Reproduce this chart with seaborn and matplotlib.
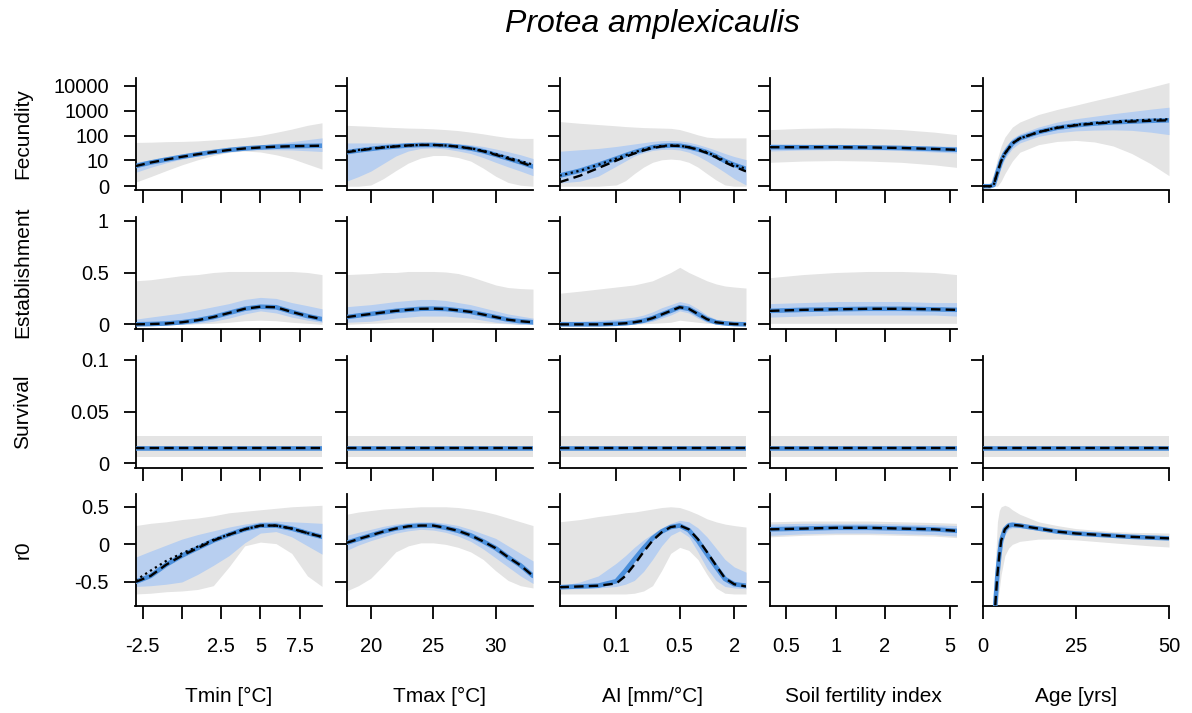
import matplotlib
matplotlib.use("Agg")
import matplotlib.pyplot as plt
import seaborn as sns
import numpy as np

sns.set_theme(style="ticks")
plt.rcParams['font.family'] = ['Liberation Sans', 'DejaVu Sans']
plt.rcParams['text.color'] = 'black'
plt.rcParams['axes.labelcolor'] = 'black'
plt.rcParams['xtick.color'] = 'black'
plt.rcParams['ytick.color'] = 'black'

# ---------------- DATA ----------------
# Fecundity values are given on the plotted axis, i.e. log10(fecundity + 1)
fec_ticks = [0, 10, 100, 1000, 10000]

# --- Fecundity ~ Tmin
fec_tmin_x = [-2.96, -2, -1, 0, 1, 2, 3, 4, 5, 6, 7, 8, 8.93]
fec_tmin_med = [0.80, 0.94, 1.06, 1.17, 1.27, 1.36, 1.44, 1.50, 1.54, 1.57, 1.59, 1.60, 1.61]
fec_tmin_bhi = [0.95, 1.05, 1.15, 1.25, 1.34, 1.42, 1.50, 1.57, 1.63, 1.70, 1.77, 1.85, 1.92]
fec_tmin_blo = [0.55, 0.75, 0.93, 1.08, 1.20, 1.30, 1.38, 1.43, 1.45, 1.45, 1.44, 1.41, 1.38]
fec_tmin_ghi = [1.74, 1.75, 1.77, 1.78, 1.80, 1.84, 1.88, 1.94, 2.02, 2.14, 2.27, 2.42, 2.52]
fec_tmin_glo = [0.16, 0.38, 0.62, 0.85, 1.05, 1.22, 1.35, 1.40, 1.36, 1.25, 1.10, 0.88, 0.68]

# --- Fecundity ~ Tmax
fec_tmax_x = [18.05, 19, 20, 21, 22, 23, 24, 25, 26, 27, 28, 29, 30, 31, 32, 33.0]
fec_tmax_med = [1.35, 1.42, 1.48, 1.54, 1.58, 1.62, 1.64, 1.64, 1.62, 1.57, 1.50, 1.39, 1.25, 1.10, 0.95, 0.78]
fec_tmax_dot = [1.38, 1.44, 1.50, 1.55, 1.59, 1.62, 1.64, 1.64, 1.62, 1.57, 1.51, 1.41, 1.28, 1.14, 1.00, 0.86]
fec_tmax_bhi = [1.72, 1.72, 1.72, 1.72, 1.72, 1.73, 1.74, 1.74, 1.72, 1.69, 1.65, 1.58, 1.48, 1.37, 1.25, 1.10]
fec_tmax_blo = [0.20, 0.38, 0.60, 0.90, 1.20, 1.40, 1.50, 1.52, 1.48, 1.40, 1.30, 1.14, 0.95, 0.77, 0.60, 0.42]
fec_tmax_ghi = [2.42, 2.40, 2.38, 2.35, 2.33, 2.31, 2.30, 2.28, 2.25, 2.21, 2.15, 2.08, 2.00, 1.93, 1.90, 1.90]
fec_tmax_glo = [0.00, 0.00, 0.05, 0.30, 0.62, 0.92, 1.12, 1.22, 1.22, 1.14, 1.00, 0.72, 0.40, 0.15, 0.04, 0.00]

# AI / x grid used by several AI panels (mm/°C)
ai_x = [0.0236, 0.0398, 0.0631, 0.1, 0.126, 0.158, 0.2, 0.251, 0.316, 0.398,
        0.501, 0.631, 0.794, 1.0, 1.26, 1.58, 2.0, 2.70]

# --- Fecundity ~ AI
fec_ai_med = [0.42, 0.62, 0.85, 1.10, 1.23, 1.35, 1.46, 1.55, 1.60, 1.62, 1.61, 1.55, 1.46, 1.35, 1.19, 1.00, 0.85, 0.69]
fec_ai_dash = [0.16, 0.42, 0.72, 1.02, 1.17, 1.30, 1.42, 1.52, 1.58, 1.61, 1.60, 1.55, 1.45, 1.32, 1.15, 0.95, 0.78, 0.59]
fec_ai_bhi = [1.39, 1.45, 1.50, 1.58, 1.63, 1.68, 1.73, 1.78, 1.81, 1.82, 1.80, 1.75, 1.66, 1.55, 1.43, 1.30, 1.18, 1.06]
fec_ai_blo = [0.13, 0.20, 0.40, 0.80, 1.00, 1.20, 1.33, 1.42, 1.46, 1.47, 1.44, 1.35, 1.20, 1.00, 0.78, 0.55, 0.30, 0.05]
fec_ai_ghi = [2.57, 2.50, 2.45, 2.40, 2.37, 2.35, 2.33, 2.32, 2.31, 2.30, 2.25, 2.15, 2.04, 1.95, 1.92, 1.92, 1.92, 1.92]
fec_ai_glo = [0, 0, 0, 0.05, 0.22, 0.50, 0.76, 0.95, 1.05, 1.08, 1.05, 0.95, 0.76, 0.50, 0.25, 0.05, 0, 0]

# --- Fecundity ~ Soil fertility
fec_soil_x = [0.397, 0.631, 1.0, 1.58, 2.51, 3.98, 5.46]
fec_soil_med = [1.55, 1.55, 1.55, 1.54, 1.52, 1.48, 1.45]
fec_soil_bhi = [1.68, 1.66, 1.65, 1.64, 1.62, 1.60, 1.58]
fec_soil_blo = [1.40, 1.44, 1.46, 1.45, 1.42, 1.36, 1.32]
fec_soil_ghi = [2.25, 2.30, 2.32, 2.30, 2.25, 2.15, 2.05]
fec_soil_glo = [0.95, 1.00, 1.02, 1.00, 0.95, 0.85, 0.75]

# --- Fecundity ~ Age
fec_age_x = [0, 2, 3, 4, 5, 6, 8, 10, 15, 20, 25, 30, 35, 40, 45, 50]
fec_age_med = [0, 0, 0.05, 0.55, 1.00, 1.30, 1.70, 1.90, 2.15, 2.32, 2.42, 2.49, 2.54, 2.57, 2.60, 2.62]
fec_age_dot = [0, 0, 0.05, 0.55, 1.00, 1.30, 1.70, 1.90, 2.15, 2.33, 2.44, 2.51, 2.57, 2.61, 2.64, 2.66]
fec_age_bhi = [0, 0.05, 0.30, 0.80, 1.25, 1.55, 1.90, 2.08, 2.35, 2.55, 2.68, 2.78, 2.88, 2.97, 3.06, 3.14]
fec_age_blo = [0, 0, 0, 0.30, 0.75, 1.10, 1.50, 1.72, 1.98, 2.12, 2.20, 2.23, 2.24, 2.22, 2.15, 2.05]
fec_age_ghi = [0, 0.10, 0.50, 1.10, 1.60, 1.95, 2.35, 2.55, 2.85, 3.05, 3.22, 3.40, 3.57, 3.75, 3.93, 4.12]
fec_age_glo = [0, 0, 0, 0, 0.20, 0.50, 1.00, 1.35, 1.65, 1.78, 1.82, 1.76, 1.60, 1.30, 0.90, 0.42]

# --- Establishment ~ Tmin
est_tmin_x = [-2.96, -2, -1, 0, 1, 2, 3, 4, 5, 6, 7, 8, 8.93]
est_tmin_med = [0.0, 0.003, 0.008, 0.02, 0.04, 0.07, 0.11, 0.15, 0.17, 0.165, 0.12, 0.08, 0.05]
est_tmin_bhi = [0.05, 0.07, 0.09, 0.11, 0.14, 0.17, 0.20, 0.24, 0.26, 0.25, 0.21, 0.18, 0.15]
est_tmin_blo = [0, 0, 0, 0, 0.01, 0.03, 0.06, 0.10, 0.13, 0.11, 0.07, 0.04, 0.02]
est_tmin_ghi = [0.42, 0.43, 0.45, 0.47, 0.48, 0.50, 0.51, 0.51, 0.51, 0.51, 0.51, 0.50, 0.48]
est_tmin_glo = [0, 0, 0, 0, 0.005, 0.01, 0.02, 0.035, 0.04, 0.035, 0.02, 0.01, 0.0]

# --- Establishment ~ Tmax
est_tmax_x = [18.05, 19, 20, 21, 22, 23, 24, 25, 26, 27, 28, 29, 30, 31, 32, 33.0]
est_tmax_med = [0.07, 0.085, 0.10, 0.115, 0.13, 0.14, 0.15, 0.152, 0.148, 0.135, 0.12, 0.095, 0.07, 0.045, 0.03, 0.02]
est_tmax_bhi = [0.17, 0.18, 0.19, 0.205, 0.22, 0.23, 0.24, 0.24, 0.23, 0.21, 0.19, 0.16, 0.13, 0.10, 0.08, 0.06]
est_tmax_blo = [0.02, 0.025, 0.03, 0.045, 0.06, 0.07, 0.08, 0.08, 0.08, 0.07, 0.06, 0.04, 0.02, 0.01, 0.0, 0.0]
est_tmax_ghi = [0.48, 0.485, 0.49, 0.50, 0.50, 0.51, 0.51, 0.51, 0.505, 0.49, 0.46, 0.42, 0.38, 0.355, 0.345, 0.34]
est_tmax_glo = [0, 0.005, 0.01, 0.015, 0.02, 0.02, 0.02, 0.02, 0.02, 0.02, 0.02, 0.015, 0.01, 0.005, 0, 0]

# --- Establishment ~ AI
est_ai_med = [0, 0, 0, 0.005, 0.01, 0.02, 0.035, 0.06, 0.095, 0.13, 0.165, 0.15, 0.10, 0.05, 0.02, 0.01, 0.003, 0]
est_ai_bhi = [0.03, 0.03, 0.04, 0.05, 0.06, 0.07, 0.09, 0.12, 0.16, 0.19, 0.22, 0.20, 0.15, 0.09, 0.05, 0.03, 0.02, 0.02]
est_ai_blo = [0, 0, 0, 0, 0, 0.005, 0.015, 0.03, 0.06, 0.09, 0.13, 0.11, 0.06, 0.02, 0.005, 0, 0, 0]
est_ai_ghi = [0.30, 0.32, 0.34, 0.36, 0.37, 0.38, 0.40, 0.42, 0.46, 0.50, 0.55, 0.50, 0.46, 0.42, 0.39, 0.37, 0.36, 0.35]
est_ai_glo = [0, 0, 0, 0, 0, 0, 0.005, 0.01, 0.015, 0.02, 0.04, 0.03, 0.02, 0.01, 0.005, 0, 0, 0]

# --- Establishment ~ Soil fertility
est_soil_x = [0.397, 0.631, 1.0, 1.58, 2.51, 3.98, 5.46]
est_soil_med = [0.13, 0.14, 0.145, 0.15, 0.15, 0.145, 0.14]
est_soil_bhi = [0.20, 0.21, 0.22, 0.22, 0.22, 0.21, 0.21]
est_soil_blo = [0.07, 0.08, 0.09, 0.09, 0.09, 0.09, 0.08]
est_soil_ghi = [0.45, 0.48, 0.50, 0.51, 0.51, 0.50, 0.48]
est_soil_glo = [0.01, 0.01, 0.01, 0.01, 0.01, 0.01, 0.01]

# --- Survival (flat in every predictor)
surv_med = 0.015
surv_bhi = 0.0163
surv_blo = 0.0137
surv_ghi = 0.026
surv_glo = 0.0065

# --- r0 ~ Tmin
r0_tmin_x = [-2.96, -2, -1, 0, 1, 2, 3, 4, 5, 6, 7, 8, 8.93]
r0_tmin_med = [-0.50, -0.42, -0.27, -0.15, -0.05, 0.05, 0.13, 0.20, 0.25, 0.25, 0.21, 0.15, 0.10]
r0_tmin_dot = [-0.48, -0.35, -0.22, -0.12, -0.03, 0.06, 0.13, 0.20, 0.25, 0.25, 0.21, 0.15, 0.10]
r0_tmin_bhi = [-0.17, -0.09, -0.01, 0.07, 0.13, 0.18, 0.23, 0.27, 0.30, 0.31, 0.30, 0.29, 0.28]
r0_tmin_blo = [-0.56, -0.55, -0.53, -0.50, -0.40, -0.28, -0.15, 0.02, 0.15, 0.17, 0.10, -0.02, -0.13]
r0_tmin_ghi = [0.25, 0.28, 0.30, 0.33, 0.35, 0.38, 0.42, 0.44, 0.46, 0.48, 0.50, 0.51, 0.52]
r0_tmin_glo = [-0.66, -0.65, -0.63, -0.62, -0.60, -0.55, -0.30, -0.02, 0.03, 0.01, -0.12, -0.42, -0.56]

# --- r0 ~ Tmax
r0_tmax_x = [18.05, 19, 20, 21, 22, 23, 24, 25, 26, 27, 28, 29, 30, 31, 32, 33.0]
r0_tmax_med = [0.02, 0.07, 0.12, 0.17, 0.21, 0.24, 0.25, 0.25, 0.22, 0.18, 0.12, 0.04, -0.05, -0.17, -0.28, -0.42]
r0_tmax_bhi = [0.12, 0.16, 0.20, 0.24, 0.27, 0.29, 0.30, 0.30, 0.28, 0.25, 0.20, 0.14, 0.08, -0.02, -0.12, -0.22]
r0_tmax_blo = [-0.08, -0.01, 0.05, 0.10, 0.15, 0.18, 0.20, 0.19, 0.16, 0.11, 0.04, -0.06, -0.18, -0.30, -0.42, -0.52]
r0_tmax_ghi = [0.40, 0.43, 0.45, 0.47, 0.48, 0.49, 0.50, 0.50, 0.50, 0.49, 0.47, 0.44, 0.40, 0.35, 0.30, 0.25]
r0_tmax_glo = [-0.62, -0.55, -0.45, -0.28, -0.10, -0.02, 0.02, 0.02, 0.00, -0.04, -0.10, -0.20, -0.35, -0.48, -0.55, -0.58]

# --- r0 ~ AI
r0_ai_med = [-0.57, -0.56, -0.55, -0.49, -0.35, -0.20, -0.05, 0.08, 0.17, 0.23,
             0.25, 0.19, 0.05, -0.13, -0.30, -0.46, -0.53, -0.55]
r0_ai_dash = [-0.57, -0.56, -0.55, -0.52, -0.42, -0.27, -0.10, 0.05, 0.16, 0.23,
              0.25, 0.20, 0.07, -0.10, -0.28, -0.45, -0.53, -0.56]
r0_ai_bhi = [-0.55, -0.50, -0.42, -0.25, -0.15, -0.04, 0.06, 0.14, 0.22, 0.28,
             0.32, 0.30, 0.22, 0.10, -0.05, -0.20, -0.30, -0.37]
r0_ai_blo = [-0.59, -0.59, -0.58, -0.56, -0.53, -0.48, -0.36, -0.20, -0.02, 0.12,
             0.18, 0.10, -0.10, -0.32, -0.48, -0.56, -0.58, -0.59]
r0_ai_ghi = [0.30, 0.33, 0.37, 0.40, 0.42, 0.43, 0.45, 0.47, 0.49, 0.50,
             0.49, 0.45, 0.40, 0.34, 0.30, 0.27, 0.25, 0.23]
r0_ai_glo = [-0.66, -0.66, -0.66, -0.66, -0.66, -0.65, -0.62, -0.55, -0.35, -0.12,
             -0.04, -0.08, -0.20, -0.40, -0.58, -0.65, -0.66, -0.66]

# --- r0 ~ Soil fertility
r0_soil_x = [0.397, 0.631, 1.0, 1.58, 2.51, 3.98, 5.46]
r0_soil_med = [0.20, 0.21, 0.22, 0.22, 0.21, 0.20, 0.18]
r0_soil_bhi = [0.27, 0.28, 0.28, 0.28, 0.27, 0.26, 0.25]
r0_soil_blo = [0.12, 0.14, 0.15, 0.15, 0.14, 0.13, 0.11]
r0_soil_ghi = [0.30, 0.31, 0.31, 0.31, 0.30, 0.29, 0.28]
r0_soil_glo = [0.10, 0.12, 0.13, 0.13, 0.12, 0.11, 0.09]

# --- r0 ~ Age
r0_age_x = [3, 3.5, 4, 4.5, 5, 6, 7, 8, 10, 15, 20, 25, 30, 35, 40, 45, 50]
r0_age_med = [-1.2, -0.75, -0.40, -0.15, 0.05, 0.20, 0.25, 0.26, 0.25, 0.21, 0.17, 0.145, 0.13, 0.115, 0.10, 0.09, 0.08]
r0_age_bhi = [-1.1, -0.60, -0.30, -0.05, 0.13, 0.26, 0.30, 0.30, 0.28, 0.23, 0.19, 0.16, 0.14, 0.125, 0.11, 0.10, 0.09]
r0_age_blo = [-1.3, -0.85, -0.50, -0.25, -0.05, 0.13, 0.20, 0.22, 0.22, 0.19, 0.155, 0.13, 0.115, 0.105, 0.09, 0.08, 0.07]
r0_age_ghi = [-0.9, -0.20, 0.30, 0.45, 0.50, 0.52, 0.50, 0.46, 0.40, 0.30, 0.25, 0.21, 0.19, 0.17, 0.16, 0.155, 0.15]
r0_age_glo = [-1.3, -1.0, -0.80, -0.60, -0.40, -0.15, -0.05, 0.0, 0.04, 0.07, 0.07, 0.06, 0.04, 0.02, 0.0, -0.02, -0.035]

# axis descriptions
col_labels = ["Tmin [°C]", "Tmax [°C]", "AI [mm/°C]", "Soil fertility index", "Age [yrs]"]
row_labels = ["Fecundity", "Establishment", "Survival", "r0"]
col_ranges = [(-2.96, 8.93), (18.05, 33.0), (0.0236, 2.70), (0.397, 5.46), (0, 50)]
col_log = [False, False, True, True, False]
col_ticks = [[-2.5, 0, 2.5, 5, 7.5], [20, 25, 30], [0.1, 0.5, 2], [0.5, 1, 2, 5], [0, 25, 50]]
col_ticklabels = [["-2.5", "", "2.5", "5", "7.5"], ["20", "25", "30"], ["0.1", "0.5", "2"],
                  ["0.5", "1", "2", "5"], ["0", "25", "50"]]
row_ylims = [(-0.15, 4.3), (-0.04, 1.04), (-0.004, 0.104), (-0.82, 0.67)]
row_ticks = [[np.log10(v + 1) for v in fec_ticks], [0, 0.5, 1], [0, 0.05, 0.1], [-0.5, 0, 0.5]]
row_ticklabels = [[str(v) for v in fec_ticks], ["0", "0.5", "1"], ["0", "0.05", "0.1"], ["-0.5", "0", "0.5"]]

# ---------------- STYLE / LAYOUT ----------------
W, H = 1192, 713
GREY = "#e4e4e4"
BLUE_BAND = "#b8cff0"
BLUE_LINE = "#4b8fdb"
col_left = [135.5, 346.5, 559.5, 770.0, 982.5]
col_w = 186.5
row_top = [78.0, 216.5, 355.5, 494.0]
row_h = 112.0

fig = plt.figure(figsize=(W / 100, H / 100), dpi=100)


def draw(ax, x, ghi, glo, bhi, blo, med, dash=None, dot=None):
    ax.fill_between(x, glo, ghi, color=GREY, lw=0, zorder=1)
    ax.fill_between(x, blo, bhi, color=BLUE_BAND, lw=0, zorder=2)
    sns.lineplot(x=x, y=med, ax=ax, color=BLUE_LINE, lw=3.3, estimator=None, sort=False, zorder=3)
    if dot is not None:
        sns.lineplot(x=x, y=dot, ax=ax, color="black", lw=1.6, linestyle=(0, (1, 1.6)),
                     estimator=None, sort=False, zorder=4)
    sns.lineplot(x=x, y=med if dash is None else dash, ax=ax, color="black", lw=1.7,
                 linestyle=(0, (4, 2.2)), estimator=None, sort=False, zorder=5)


panels = {
    (0, 0): dict(x=fec_tmin_x, ghi=fec_tmin_ghi, glo=fec_tmin_glo, bhi=fec_tmin_bhi, blo=fec_tmin_blo, med=fec_tmin_med),
    (0, 1): dict(x=fec_tmax_x, ghi=fec_tmax_ghi, glo=fec_tmax_glo, bhi=fec_tmax_bhi, blo=fec_tmax_blo, med=fec_tmax_med, dot=fec_tmax_dot),
    (0, 2): dict(x=ai_x, ghi=fec_ai_ghi, glo=fec_ai_glo, bhi=fec_ai_bhi, blo=fec_ai_blo, med=fec_ai_med, dash=fec_ai_dash, dot=fec_ai_med),
    (0, 3): dict(x=fec_soil_x, ghi=fec_soil_ghi, glo=fec_soil_glo, bhi=fec_soil_bhi, blo=fec_soil_blo, med=fec_soil_med),
    (0, 4): dict(x=fec_age_x, ghi=fec_age_ghi, glo=fec_age_glo, bhi=fec_age_bhi, blo=fec_age_blo, med=fec_age_med, dot=fec_age_dot),
    (1, 0): dict(x=est_tmin_x, ghi=est_tmin_ghi, glo=est_tmin_glo, bhi=est_tmin_bhi, blo=est_tmin_blo, med=est_tmin_med),
    (1, 1): dict(x=est_tmax_x, ghi=est_tmax_ghi, glo=est_tmax_glo, bhi=est_tmax_bhi, blo=est_tmax_blo, med=est_tmax_med),
    (1, 2): dict(x=ai_x, ghi=est_ai_ghi, glo=est_ai_glo, bhi=est_ai_bhi, blo=est_ai_blo, med=est_ai_med),
    (1, 3): dict(x=est_soil_x, ghi=est_soil_ghi, glo=est_soil_glo, bhi=est_soil_bhi, blo=est_soil_blo, med=est_soil_med),
    (3, 0): dict(x=r0_tmin_x, ghi=r0_tmin_ghi, glo=r0_tmin_glo, bhi=r0_tmin_bhi, blo=r0_tmin_blo, med=r0_tmin_med, dot=r0_tmin_dot),
    (3, 1): dict(x=r0_tmax_x, ghi=r0_tmax_ghi, glo=r0_tmax_glo, bhi=r0_tmax_bhi, blo=r0_tmax_blo, med=r0_tmax_med),
    (3, 2): dict(x=ai_x, ghi=r0_ai_ghi, glo=r0_ai_glo, bhi=r0_ai_bhi, blo=r0_ai_blo, med=r0_ai_med, dash=r0_ai_dash),
    (3, 3): dict(x=r0_soil_x, ghi=r0_soil_ghi, glo=r0_soil_glo, bhi=r0_soil_bhi, blo=r0_soil_blo, med=r0_soil_med),
    (3, 4): dict(x=r0_age_x, ghi=r0_age_ghi, glo=r0_age_glo, bhi=r0_age_bhi, blo=r0_age_blo, med=r0_age_med),
}
for c in range(5):
    rx = list(col_ranges[c])
    panels[(2, c)] = dict(x=rx, ghi=[surv_ghi] * 2, glo=[surv_glo] * 2, bhi=[surv_bhi] * 2,
                          blo=[surv_blo] * 2, med=[surv_med] * 2)

for r in range(4):
    for c in range(5):
        if (r, c) not in panels:
            continue
        ax = fig.add_axes([col_left[c] / W, 1 - (row_top[r] + row_h) / H, col_w / W, row_h / H])
        ax.set_facecolor("white")
        if col_log[c]:
            ax.set_xscale("log")
        draw(ax, **panels[(r, c)])
        ax.set_xlim(*col_ranges[c])
        ax.set_ylim(*row_ylims[r])
        ax.minorticks_off()
        ax.set_xticks(col_ticks[c])
        ax.set_yticks(row_ticks[r])
        if r == 3:
            ax.set_xticklabels(col_ticklabels[c])
        else:
            ax.set_xticklabels([])
        if c == 0:
            ax.set_yticklabels(row_ticklabels[r])
        else:
            ax.set_yticklabels([])
        ax.set_xlabel("")
        ax.set_ylabel("")
        for s in ["top", "right"]:
            ax.spines[s].set_visible(False)
        for s in ["left", "bottom"]:
            ax.spines[s].set_linewidth(1.3)
            ax.spines[s].set_color("black")
        ax.tick_params(axis="both", direction="out", length=9, width=1.3, color="black",
                       labelsize=14.5, labelcolor="black")
        ax.tick_params(axis="x", pad=13)
        ax.tick_params(axis="y", pad=10)

# row labels
for r in range(4):
    yc = row_top[r] + row_h / 2
    fig.text(23 / W, 1 - yc / H, row_labels[r], rotation=90, ha="center", va="center", fontsize=15)
# column labels
for c in range(5):
    xc = col_left[c] + col_w / 2
    fig.text(xc / W, 1 - 696 / H, col_labels[c], ha="center", va="center", fontsize=15)

fig.text(652 / W, 1 - 24 / H, "Protea amplexicaulis", ha="center", va="center",
         fontsize=23, style="italic")

fig.savefig("out.png", dpi=100, facecolor="white")
